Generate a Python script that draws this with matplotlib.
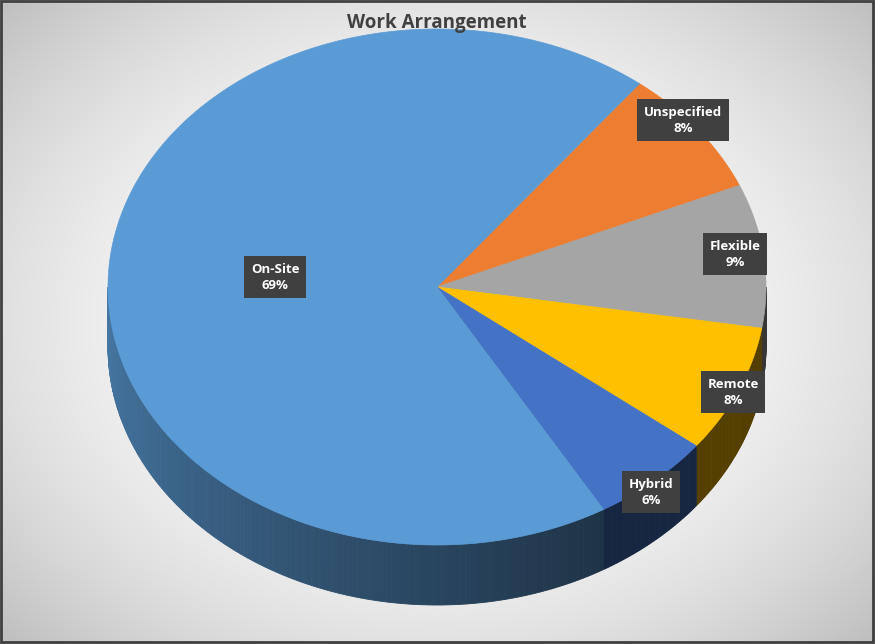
import numpy as np
import matplotlib
matplotlib.use("Agg")
import matplotlib.pyplot as plt
from matplotlib.patches import Polygon
import matplotlib.colors as mc

categories = ["Unspecified", "Flexible", "Remote", "Hybrid", "On-Site"]
values = [8, 9, 8, 6, 69]
colors = ["#ED7D31", "#A5A5A5", "#FFC000", "#4472C4", "#5B9BD5"]
label_pos = {"Unspecified": (683, 120), "Flexible": (735, 254), "Remote": (733, 392),
             "Hybrid": (651, 492), "On-Site": (275, 277)}

W, H = 875, 644
fig = plt.figure(figsize=(W/100, H/100), dpi=100)
ax = fig.add_axes([0, 0, 1, 1])
ax.set_xlim(0, W); ax.set_ylim(H, 0); ax.axis("off")

# background radial gradient
yy, xx = np.mgrid[0:H, 0:W]
d = np.sqrt(((xx-437)/600)**2 + ((yy-320)/460)**2)
g = np.clip(1 - 0.25*d**2.2, 0.75, 1)
ax.imshow(np.dstack([g, g, g]), extent=[0, W, H, 0], zorder=0)
ax.add_patch(plt.Rectangle((1, 1), W-3, H-3, fill=False, ec="#404040", lw=2, zorder=10))

cx, cy, rx, ry, depth = 437, 287, 329, 258, 60
def pt(t, dy=0):
    r = np.radians(t)
    return cx + rx*np.cos(r), cy - ry*np.sin(r) + dy

start = 52.0
bounds = []
for v in values:
    end = start - v*3.6
    bounds.append((end, start))
    start = end

# sides
for (lo, hi), col in zip(bounds, colors):
    a, b = max(lo, -180), min(hi, 0)
    if a >= b:
        continue
    ts = np.linspace(a, b, max(int((b-a)*2), 2))
    base = np.array(mc.to_rgb(col))
    for t0, t1 in zip(ts[:-1], ts[1:]):
        f = 0.78 - 0.45*np.clip((t0+180)/120, 0, 1)
        p = [pt(t0), pt(t1), pt(t1, depth), pt(t0, depth)]
        ax.add_patch(Polygon(p, closed=True, fc=base*f, ec=base*f, lw=0.6, zorder=2))

# top
for (lo, hi), col in zip(bounds, colors):
    ts = np.linspace(hi, lo, 300)
    p = [(cx, cy)] + [pt(t) for t in ts]
    ax.add_patch(Polygon(p, closed=True, fc=col, ec=col, lw=0.5, zorder=3))

for c, v in zip(categories, values):
    x, y = label_pos[c]
    ax.text(x, y, f"{c}\n{v}%", ha="center", va="center", color="white",
            fontsize=9.5, fontweight="bold", family="Open Sans", linespacing=1.3, zorder=5,
            bbox=dict(boxstyle="square,pad=0.5", fc="#404040", ec="none"))

ax.text(437, 23, "Work Arrangement", ha="center", va="center", fontsize=13.5,
        fontweight="bold", color="#404040", family="Open Sans", zorder=5)
fig.savefig("out.png", dpi=100)
